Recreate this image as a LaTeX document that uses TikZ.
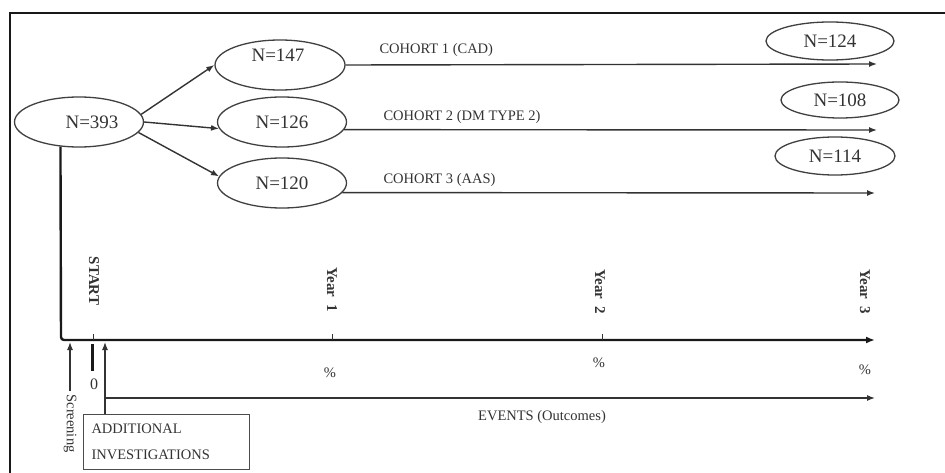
\documentclass[tikz,border=0pt]{standalone}
\usepackage{fontspec}
\setmainfont{Liberation Serif}
\usetikzlibrary{arrows.meta,shapes.geometric}
\begin{document}
\begin{tikzpicture}[x=1pt,y=-1pt,
  every node/.style={text=black!80},
  oval/.style={draw=black!75, line width=1.3pt, ellipse, minimum width=129pt, minimum height=50pt, inner sep=0pt},
  roval/.style={draw=black!75, line width=1.3pt, ellipse, minimum width=122pt, minimum height=37pt, inner sep=0pt},
  big/.style={font=\fontsize{19}{21}\selectfont},
  small/.style={font=\fontsize{14.5}{17}\selectfont},
  bsmall/.style={font=\fontsize{15}{17}\selectfont\bfseries},
  tip/.style={-{Latex[length=8pt,width=6pt]}},
  conn/.style={draw=black!80, line width=1.4pt, tip},
  frame/.style={draw=black!90, line width=2pt},
  axisline/.style={draw=black!90, line width=2.4pt, -{Latex[length=9pt,width=7pt]}},
  tick/.style={draw=black!80, line width=1pt}
]
\useasboundingbox (0,0) rectangle (945,473);
\fill[white] (0,0) rectangle (945,473);
% frame (top and left only)
\coordinate (ftl) at (10,13);
\coordinate (ftr) at (945,13);
\coordinate (fbl) at (10,473);
\draw[frame] (ftr) -- (ftl) -- (fbl);

% left ovals
\node[oval] (n393) at (79,122) {};
\node[big] (t393) at (92,122) {N=393};
\node[oval, minimum width=130pt] (n147) at (280,65) {};
\node[big] (t147) at (278,55) {N=147};
\node[oval, big] (n126) at (282,122) {N=126};
\node[oval, big] (n120) at (282,183) {N=120};

% right ovals
\node[roval, big, minimum width=128pt, minimum height=38pt] (n124) at (830,41) {N=124};
\node[roval, big, minimum width=118pt, minimum height=36pt] (n108) at (840,100) {N=108};
\node[roval, big, minimum width=120pt, minimum height=38pt] (n114) at (835,156) {N=114};

% split arrows
\draw[conn] (n393.7) -- (n147.west);
\draw[conn] (n393.east) -- (n126.186);
\draw[conn] (n393.-10) -- (n120.174);

% cohort lines
\coordinate (c1e) at (877,64);
\coordinate (c2e) at (877,130);
\coordinate (c3e) at (875,193);
\draw[conn] (n147.east) -- (c1e);
\draw[conn] (n126.-7) -- (c2e);
\draw[conn] (n120.-9.5) -- (c3e);
\node[small, anchor=west] (l1) at (376,50) {COHORT 1 (CAD)};
\node[small, anchor=west] (l2) at (380,117) {COHORT 2 (DM TYPE 2)};
\node[small, anchor=west] (l3) at (380,180) {COHORT 3 (AAS)};

% main time axis
\coordinate (axc) at (61,340);
\coordinate (axe) at (875,340);
\draw[axisline, rounded corners=3pt] (n393.-127) -- (axc) -- (axe);

% ticks
\coordinate (tk0a) at (93,334);
\coordinate (tk0b) at (93,340);
\coordinate (tk1a) at (332,334);
\coordinate (tk1b) at (332,340);
\coordinate (tk2a) at (602,334);
\coordinate (tk2b) at (602,340);
\draw[tick] (tk0a) -- (tk0b);
\draw[tick] (tk1a) -- (tk1b);
\draw[tick] (tk2a) -- (tk2b);

% rotated labels
\node[bsmall, rotate=-90] (start) at (94,281) {START};
\node[bsmall, rotate=-90] (y1) at (332,290) {Year\ \ 1};
\node[bsmall, rotate=-90] (y2) at (600,292) {Year\ \ 2};
\node[bsmall, rotate=-90] (y3) at (865,292) {Year\ \ 3};

% percent labels
\node[small] (p1) at (330,373) {\%};
\node[small] (p2) at (599,363) {\%};
\node[small] (p3) at (865,370) {\%};

% zero marker
\coordinate (z0a) at (92,344);
\coordinate (z0b) at (92,371);
\draw[draw=black!90, line width=3pt] (z0a) -- (z0b);
\node[small, font=\fontsize{16}{18}\selectfont] (zero) at (94,384) {0};

% screening
\node[small, rotate=-90, anchor=west] (scr) at (70,391) {Screening};
\coordinate (scrtop) at (70,342);
\draw[conn, line width=1.2pt] (scr.west) -- (scrtop);

% additional investigations
\node[draw=black!70, line width=1pt, rectangle, anchor=north west, minimum width=165pt, minimum height=55pt,
      align=left, text width=150pt, inner xsep=8pt, small, font=\fontsize{14.5}{26}\selectfont] (addinv) at (83,414)
  {ADDITIONAL\\INVESTIGATIONS};
\coordinate (aitop) at (105,342);
\coordinate (aibot) at (105,414);
\coordinate (evs) at (105,398);
\coordinate (eve) at (875,398);
\draw[conn, line width=1.2pt] (aibot) -- (aitop);
\draw[conn, line width=1.2pt] (evs) -- (eve);
\node[small] (events) at (542,417) {EVENTS (Outcomes)};
\end{tikzpicture}
\end{document}
